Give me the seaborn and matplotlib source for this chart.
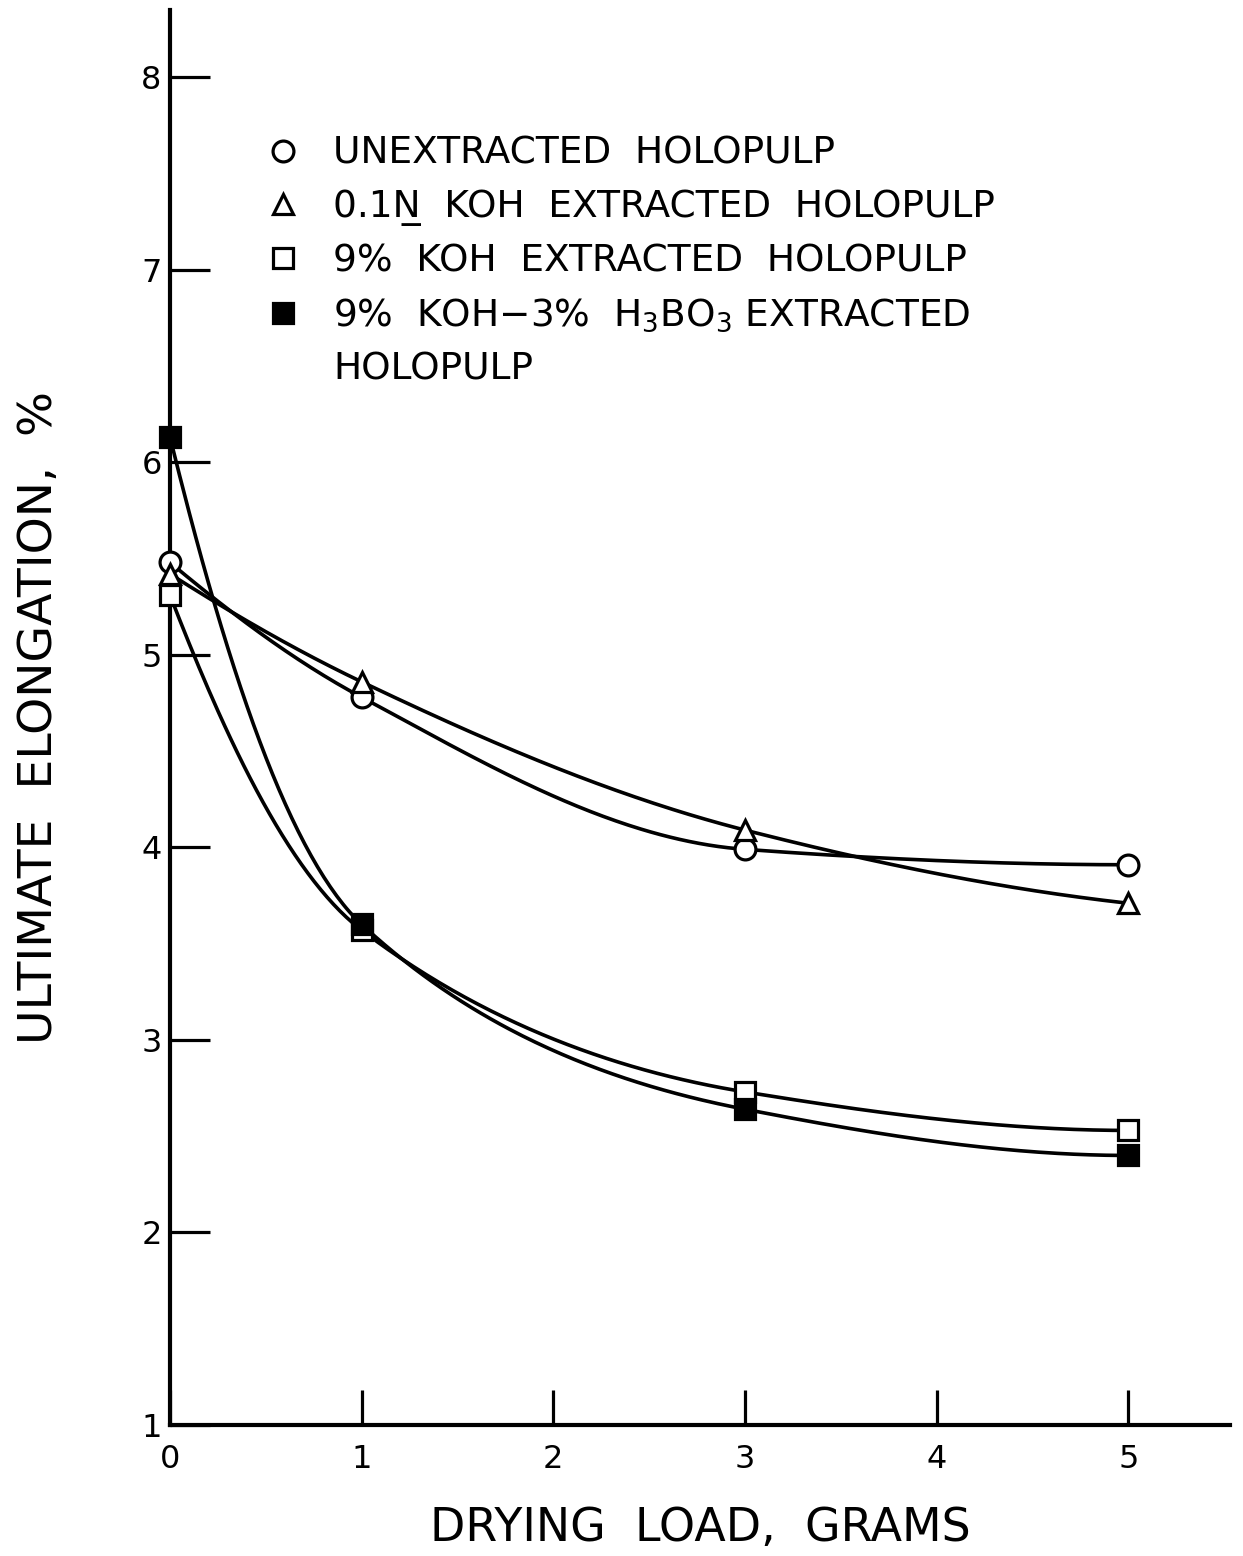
import numpy as np
import pandas as pd
import matplotlib
matplotlib.use("Agg")
import matplotlib.pyplot as plt
from matplotlib.lines import Line2D
import seaborn as sns

# values
load = [0, 1, 3, 5]
unextracted = [5.48, 4.78, 3.99, 3.91]
koh_01n = [5.42, 4.86, 4.09, 3.71]
koh_9 = [5.31, 3.57, 2.73, 2.53]
koh_9_boric = [6.13, 3.60, 2.64, 2.40]

series_names = [
    "UNEXTRACTED  HOLOPULP",
    "0.1N\u0332  KOH  EXTRACTED  HOLOPULP",
    "9%  KOH  EXTRACTED  HOLOPULP",
    r"9%  KOH$-$3%  H$_\mathregular{3}$BO$_\mathregular{3}$ EXTRACTED",
]
last_line = "HOLOPULP"
markers = ["o", "^", "s", "s"]
fills = ["white", "white", "white", "black"]


def pchip(x, y, xs):
    # monotone cubic through the measured points (smooth curve like the hand drawn one)
    x = np.asarray(x, float)
    y = np.asarray(y, float)
    h = np.diff(x)
    d = np.diff(y) / h
    n = len(x)
    m = np.zeros(n)
    for k in range(1, n - 1):
        if d[k - 1] * d[k] > 0:
            w1 = 2 * h[k] + h[k - 1]
            w2 = h[k] + 2 * h[k - 1]
            m[k] = (w1 + w2) / (w1 / d[k - 1] + w2 / d[k])

    def end(h0, h1, d0, d1):
        e = ((2 * h0 + h1) * d0 - h0 * d1) / (h0 + h1)
        if np.sign(e) != np.sign(d0):
            return 0.0
        if np.sign(d0) != np.sign(d1) and abs(e) > abs(3 * d0):
            return 3 * d0
        return e

    m[0] = end(h[0], h[1], d[0], d[1])
    m[-1] = end(h[-1], h[-2], d[-1], d[-2])
    idx = np.clip(np.searchsorted(x, xs) - 1, 0, n - 2)
    t = (xs - x[idx]) / h[idx]
    h00 = 2 * t**3 - 3 * t**2 + 1
    h10 = t**3 - 2 * t**2 + t
    h01 = -2 * t**3 + 3 * t**2
    h11 = t**3 - t**2
    return h00 * y[idx] + h10 * h[idx] * m[idx] + h01 * y[idx + 1] + h11 * h[idx] * m[idx + 1]


sns.set_style("white")
plt.rcParams["font.family"] = ["DejaVu Sans"]
plt.rcParams["mathtext.fontset"] = "dejavusans"
plt.rcParams["text.color"] = "black"
plt.rcParams["axes.labelcolor"] = "black"
plt.rcParams["xtick.color"] = "black"
plt.rcParams["ytick.color"] = "black"

fig = plt.figure(figsize=(12.43, 15.56), dpi=100)
ax = fig.add_axes([0.1368, 0.0842, 0.8527, 0.9094])

all_values = [unextracted, koh_01n, koh_9, koh_9_boric]
xs = np.linspace(0, 5, 300)
for vals in all_values:
    # smooth in log space so the curves decay like the drawn ones
    smooth = np.exp(pchip(load, np.log(vals), xs))
    curve = pd.DataFrame({"load": xs, "elong": smooth})
    sns.lineplot(data=curve, x="load", y="elong", color="black", lw=2.6, ax=ax,
                 legend=False, zorder=2)

handles = []
for vals, mk, fc in zip(all_values, markers, fills):
    pts = pd.DataFrame({"load": load, "elong": vals})
    ax.plot(pts["load"], pts["elong"], linestyle="none", marker=mk, markersize=15,
            markerfacecolor=fc, markeredgecolor="black", markeredgewidth=2.3,
            zorder=3, clip_on=False)
    handles.append(Line2D([], [], linestyle="none", marker=mk, markersize=15,
                          markerfacecolor=fc, markeredgecolor="black",
                          markeredgewidth=2.3))
handles.append(Line2D([], [], linestyle="none"))

ax.legend(handles, series_names + [last_line], loc="upper left",
          bbox_to_anchor=(0.0887, 0.911), frameon=False, fontsize=27,
          handlelength=1.0, handletextpad=0.84, labelspacing=0.46,
          borderaxespad=0, borderpad=0)

ax.set_xlim(0, 5.53)
ax.set_ylim(1, 8.35)
ax.set_xticks([0, 1, 2, 3, 4, 5])
ax.set_yticks([1, 2, 3, 4, 5, 6, 7, 8])
ax.tick_params(axis="y", left=True, direction="in", length=29, width=2.3,
               labelsize=23, pad=6)
ax.tick_params(axis="x", bottom=True, direction="in", length=25, width=2.3,
               labelsize=23, pad=14)
for s in ["top", "right"]:
    ax.spines[s].set_visible(False)
for s in ["left", "bottom"]:
    ax.spines[s].set_linewidth(3)
    ax.spines[s].set_color("black")

ax.set_xlabel("DRYING  LOAD,  GRAMS", fontsize=33, labelpad=22)
ax.set_ylabel("ULTIMATE  ELONGATION,  %", fontsize=34, labelpad=57)

fig.savefig("out.png", dpi=100)
